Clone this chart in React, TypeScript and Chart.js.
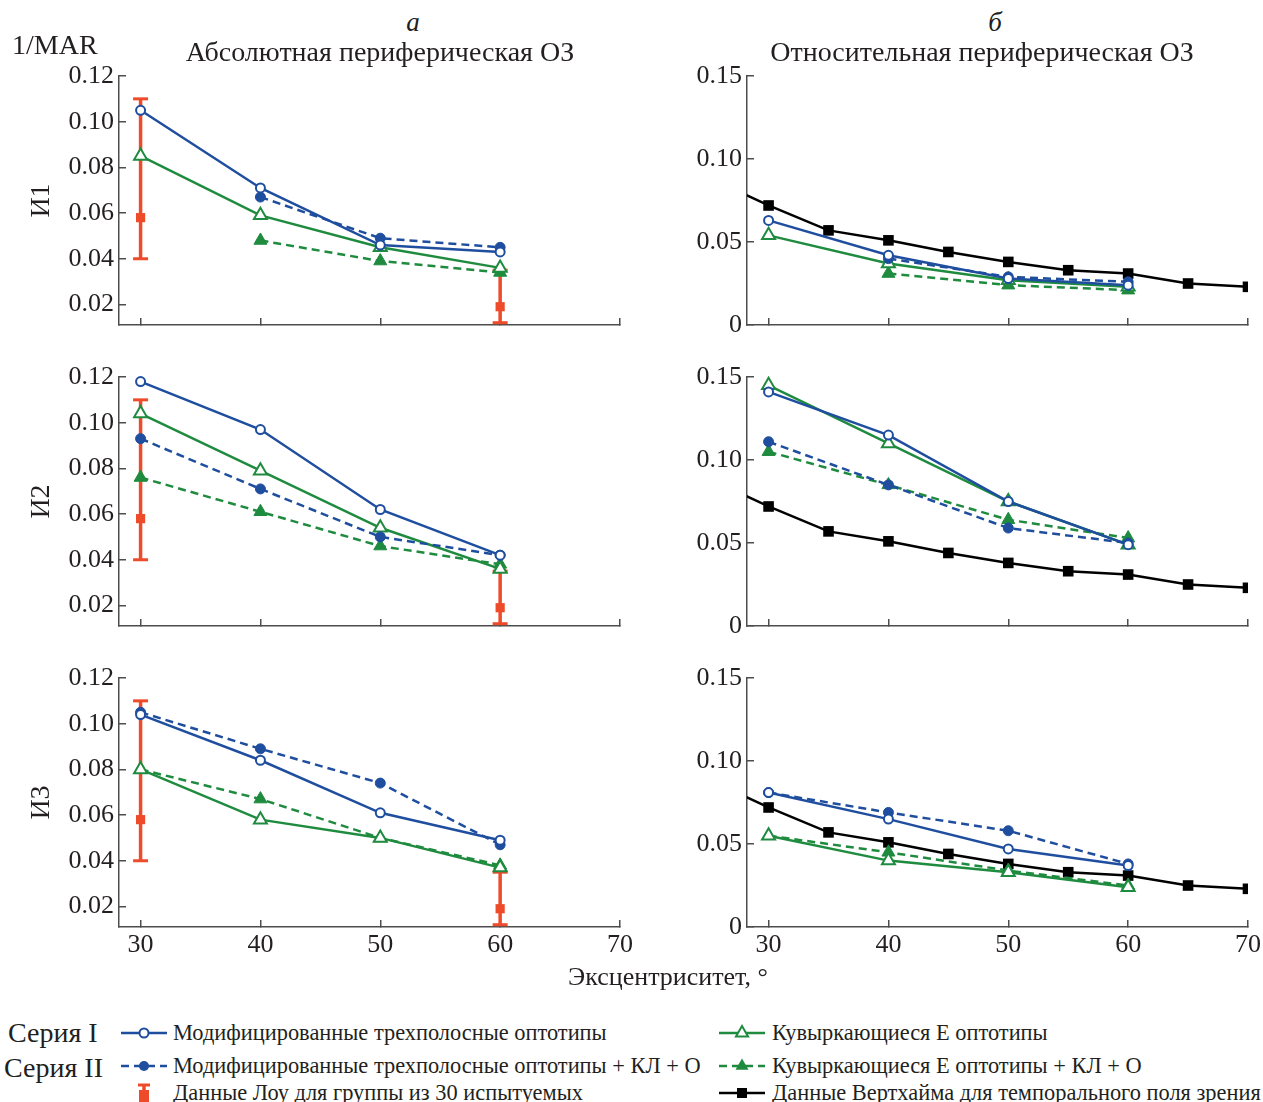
import React, { useEffect, useRef } from 'react';
import { Chart, registerables } from 'chart.js';

Chart.register(...registerables);

// ---------- data ----------
const ECC = [30, 40, 50, 60];
const X_TICKS = [30, 40, 50, 60, 70];
const ABS_Y_TICKS = [0.02, 0.04, 0.06, 0.08, 0.1, 0.12];
const REL_Y_TICKS = [0, 0.05, 0.1, 0.15];
const ROW_TITLES = ['И1', 'И2', 'И3'];

// Absolute peripheral VA (left column)
const ABS_I1_3BAR = [0.105, 0.071, 0.046, 0.043];
const ABS_I1_3BAR_KL = [null, 0.067, 0.049, 0.045];
const ABS_I1_E = [0.085, 0.059, 0.045, 0.036];
const ABS_I1_E_KL = [null, 0.048, 0.039, 0.034];

const ABS_I2_3BAR = [0.118, 0.097, 0.062, 0.042];
const ABS_I2_3BAR_KL = [0.093, 0.071, 0.05, 0.042];
const ABS_I2_E = [0.104, 0.079, 0.054, 0.036];
const ABS_I2_E_KL = [0.076, 0.061, 0.046, 0.038];

const ABS_I3_3BAR = [0.104, 0.084, 0.061, 0.049];
const ABS_I3_3BAR_KL = [0.105, 0.089, 0.074, 0.047];
const ABS_I3_E = [0.08, 0.058, 0.05, 0.037];
const ABS_I3_E_KL = [0.08, 0.067, 0.05, 0.038];

// Relative peripheral VA (right column)
const REL_I1_3BAR = [0.063, 0.042, 0.028, 0.024];
const REL_I1_3BAR_KL = [null, 0.04, 0.029, 0.026];
const REL_I1_E = [0.054, 0.037, 0.027, 0.023];
const REL_I1_E_KL = [null, 0.031, 0.024, 0.021];

const REL_I2_3BAR = [0.141, 0.115, 0.075, 0.049];
const REL_I2_3BAR_KL = [0.111, 0.085, 0.059, 0.05];
const REL_I2_E = [0.145, 0.11, 0.075, 0.049];
const REL_I2_E_KL = [0.105, 0.085, 0.064, 0.053];

const REL_I3_3BAR = [0.081, 0.065, 0.047, 0.037];
const REL_I3_3BAR_KL = [0.081, 0.069, 0.058, 0.038];
const REL_I3_E = [0.055, 0.04, 0.033, 0.024];
const REL_I3_E_KL = [0.055, 0.045, 0.034, 0.025];

// Low data (30 subjects)
const LOW_ECC = [30, 60];
const LOW_MEAN = [0.058, 0.019];
const LOW_LO = [0.04, 0.012];
const LOW_HI = [0.11, 0.035];

// Wertheim data (temporal visual field)
const WERT_ECC = [25, 30, 35, 40, 45, 50, 55, 60, 65, 70];
const WERT_VAL = [0.089, 0.072, 0.057, 0.051, 0.044, 0.038, 0.033, 0.031, 0.025, 0.023];

// ---------- styles ----------
const FONT = '"Liberation Serif", "Times New Roman", Times, serif';
const TEXT = '#231f20';
const AXIS = '#4d4d4d';
const BLUE = '#1f4e9f';
const GREEN = '#1f8b3f';
const RED = '#ee4b2b';
const BLACK = '#000000';

Chart.defaults.font.family = FONT;

const COLS: any = {
  abs: { x: 0, w: 650, padL: 22, padR: 30, yW: 97 },
  rel: { x: 640, w: 638, padL: 0, padR: 30, yW: 107 },
};
const ROWS = [
  { y: 40, h: 320, padT: 36, xH: 35 },
  { y: 340, h: 321, padT: 37, xH: 35 },
  { y: 641, h: 339, padT: 37, xH: 53 },
];

const pts = (xs: number[], ys: (number | null)[]) => xs.map((x, i) => ({ x, y: ys[i] }));

function series(data: (number | null)[], color: string, tri: boolean, filled: boolean, dashed: boolean) {
  return {
    data: pts(ECC, data),
    borderColor: color,
    backgroundColor: color,
    borderWidth: 2.5,
    borderDash: dashed ? [8, 5] : [],
    pointStyle: tri ? 'triangle' : 'circle',
    pointRadius: tri ? 7.5 : filled ? 5 : 4.5,
    pointBackgroundColor: filled ? color : '#ffffff',
    pointBorderColor: color,
    pointBorderWidth: filled ? 1 : 2,
    tension: 0,
    spanGaps: false,
    clip: false,
  };
}

function lowDatasets() {
  const bars: any[] = [];
  LOW_ECC.forEach((x, i) => {
    bars.push({ x, y: LOW_LO[i] });
    bars.push({ x, y: LOW_HI[i] });
    bars.push({ x, y: null });
  });
  return [
    {
      data: pts(LOW_ECC, LOW_MEAN),
      showLine: false,
      pointStyle: 'rect',
      pointRadius: 6.5,
      pointBackgroundColor: RED,
      pointBorderColor: RED,
      pointBorderWidth: 0,
      clip: false,
    },
    {
      data: bars,
      borderColor: RED,
      backgroundColor: RED,
      borderWidth: 3.5,
      pointStyle: 'line',
      pointRadius: 7.5,
      pointBorderWidth: 3,
      pointBorderColor: RED,
      spanGaps: false,
      clip: false,
    },
  ];
}

function wertDataset() {
  return {
    data: pts(WERT_ECC, WERT_VAL),
    borderColor: BLACK,
    backgroundColor: BLACK,
    borderWidth: 2.5,
    pointStyle: 'rect',
    pointRadius: 7.5,
    pointBackgroundColor: BLACK,
    pointBorderColor: BLACK,
    pointBorderWidth: 0,
    tension: 0,
  };
}

function fourSeries(a: any[], b: any[], c: any[], d: any[]) {
  return [
    series(a, BLUE, false, false, false),
    series(b, BLUE, false, true, true),
    series(c, GREEN, true, false, false),
    series(d, GREEN, true, true, true),
  ];
}

const ABS_SETS = [
  [ABS_I1_3BAR, ABS_I1_3BAR_KL, ABS_I1_E, ABS_I1_E_KL],
  [ABS_I2_3BAR, ABS_I2_3BAR_KL, ABS_I2_E, ABS_I2_E_KL],
  [ABS_I3_3BAR, ABS_I3_3BAR_KL, ABS_I3_E, ABS_I3_E_KL],
];
const REL_SETS = [
  [REL_I1_3BAR, REL_I1_3BAR_KL, REL_I1_E, REL_I1_E_KL],
  [REL_I2_3BAR, REL_I2_3BAR_KL, REL_I2_E, REL_I2_E_KL],
  [REL_I3_3BAR, REL_I3_3BAR_KL, REL_I3_E, REL_I3_E_KL],
];

function makeConfig(col: string, rowIdx: number): any {
  const c = COLS[col];
  const r = ROWS[rowIdx];
  const isAbs = col === 'abs';
  const showX = rowIdx === 2;
  const sets = isAbs ? ABS_SETS[rowIdx] : REL_SETS[rowIdx];
  const datasets: any[] = fourSeries(sets[0], sets[1], sets[2], sets[3]);
  if (isAbs) datasets.push(...lowDatasets());
  else datasets.push(wertDataset());
  const yTicks = isAbs ? ABS_Y_TICKS : REL_Y_TICKS;
  const gridOpts = {
    drawOnChartArea: false,
    drawTicks: true,
    tickLength: -7,
    color: AXIS,
    tickColor: AXIS,
    lineWidth: 1.5,
    tickWidth: 1.5,
  };
  return {
    type: 'line',
    data: { datasets },
    options: {
      responsive: false,
      animation: false,
      events: [],
      layout: { padding: { left: c.padL, right: c.padR, top: r.padT, bottom: 0 } },
      plugins: {
        legend: { display: false },
        tooltip: { enabled: false },
        title: { display: false },
      },
      scales: {
        x: {
          type: 'linear',
          min: 28.2,
          max: 70,
          afterBuildTicks: (s: any) => {
            s.ticks = X_TICKS.map((v) => ({ value: v }));
          },
          afterFit: (s: any) => {
            s.height = r.xH;
          },
          grid: gridOpts,
          border: { display: true, color: AXIS, width: 1.5 },
          ticks: {
            display: showX,
            padding: 10,
            autoSkip: false,
            maxRotation: 0,
            color: TEXT,
            font: { family: FONT, size: 26 },
            callback: (v: any) => String(v),
          },
        },
        y: {
          type: 'linear',
          min: isAbs ? 0.011 : 0,
          max: isAbs ? 0.12 : 0.15,
          afterBuildTicks: (s: any) => {
            s.ticks = yTicks.map((v) => ({ value: v }));
          },
          afterFit: (s: any) => {
            s.width = c.yW;
          },
          grid: gridOpts,
          border: { display: true, color: AXIS, width: 1.5 },
          ticks: {
            padding: 12,
            autoSkip: false,
            color: TEXT,
            font: { family: FONT, size: 26 },
            callback: (v: any) => (v === 0 ? '0' : Number(v).toFixed(2)),
          },
          title: {
            display: isAbs,
            text: ROW_TITLES[rowIdx],
            color: TEXT,
            font: { family: FONT, size: 28 },
            padding: { top: 3, bottom: 0 },
          },
        },
      },
    },
  };
}

function Panel({ col, row }: { col: string; row: number }) {
  const ref = useRef<HTMLCanvasElement>(null);
  const c = COLS[col];
  const r = ROWS[row];
  useEffect(() => {
    const chart = new Chart(ref.current as HTMLCanvasElement, makeConfig(col, row));
    return () => chart.destroy();
  }, [col, row]);
  return (
    <canvas
      ref={ref}
      width={c.w}
      height={r.h}
      style={{ position: 'absolute', left: c.x, top: r.y, width: c.w, height: r.h }}
    />
  );
}

function Text({ x, y, size, italic, align, children }: any) {
  const tx = align === 'left' ? '0' : '-50%';
  return (
    <div
      style={{
        position: 'absolute',
        left: x,
        top: y,
        transform: `translate(${tx}, -50%)`,
        fontFamily: FONT,
        fontSize: size,
        fontStyle: italic ? 'italic' : 'normal',
        color: TEXT,
        whiteSpace: 'nowrap',
        lineHeight: 1,
      }}
    >
      {children}
    </div>
  );
}

function LegendIcon({ kind, x, y }: { kind: string; x: number; y: number }) {
  const w = 46;
  const h = 24;
  const cx = w / 2;
  const cy = h / 2;
  let body: any = null;
  const tri = (r: number) => {
    const a = (Math.PI * 2) / 3;
    const p = [0, 1, 2].map((k) => `${cx + Math.sin(k * a) * r},${cy - Math.cos(k * a) * r}`);
    return p.join(' ');
  };
  if (kind === 'blueOpen') {
    body = (
      <>
        <line x1={0} y1={cy} x2={w} y2={cy} stroke={BLUE} strokeWidth={2.5} />
        <circle cx={cx} cy={cy} r={4.5} fill="#fff" stroke={BLUE} strokeWidth={2} />
      </>
    );
  } else if (kind === 'blueFilled') {
    body = (
      <>
        <line x1={0} y1={cy} x2={w} y2={cy} stroke={BLUE} strokeWidth={2.5} strokeDasharray="8 5" />
        <circle cx={cx} cy={cy} r={5} fill={BLUE} />
      </>
    );
  } else if (kind === 'greenOpen') {
    body = (
      <>
        <line x1={0} y1={cy} x2={w} y2={cy} stroke={GREEN} strokeWidth={2.5} />
        <polygon points={tri(7)} fill="#fff" stroke={GREEN} strokeWidth={2} />
      </>
    );
  } else if (kind === 'greenFilled') {
    body = (
      <>
        <line x1={0} y1={cy} x2={w} y2={cy} stroke={GREEN} strokeWidth={2.5} strokeDasharray="8 5" />
        <polygon points={tri(7.5)} fill={GREEN} />
      </>
    );
  } else if (kind === 'black') {
    body = (
      <>
        <line x1={0} y1={cy} x2={w} y2={cy} stroke={BLACK} strokeWidth={2.5} />
        <rect x={cx - 5} y={cy - 5} width={10} height={10} fill={BLACK} />
      </>
    );
  } else if (kind === 'red') {
    body = (
      <>
        <line x1={cx - 6} y1={3} x2={cx + 6} y2={3} stroke={RED} strokeWidth={3} />
        <line x1={cx} y1={3} x2={cx} y2={h} stroke={RED} strokeWidth={3.5} />
        <rect x={cx - 5} y={cy - 4} width={10} height={12} fill={RED} />
      </>
    );
  }
  return (
    <svg
      width={w}
      height={h}
      style={{ position: 'absolute', left: x - w / 2, top: y - h / 2, overflow: 'visible' }}
    >
      {body}
    </svg>
  );
}

export default function App() {
  return (
    <div
      style={{
        position: 'absolute',
        left: 0,
        top: 0,
        width: 1263,
        height: 1102,
        overflow: 'hidden',
        background: '#ffffff',
      }}
    >
      {['abs', 'rel'].map((col) =>
        [0, 1, 2].map((row) => <Panel key={col + row} col={col} row={row} />)
      )}

      <Text x={413} y={22} size={27} italic>
        а
      </Text>
      <Text x={995} y={22} size={27} italic>
        б
      </Text>
      <Text x={12} y={45} size={28} align="left">
        1/MAR
      </Text>
      <Text x={380} y={52} size={28}>
        Абсолютная периферическая ОЗ
      </Text>
      <Text x={982} y={52} size={28}>
        Относительная периферическая ОЗ
      </Text>
      <Text x={668} y={977} size={26}>
        Эксцентриситет, °
      </Text>

      <Text x={8} y={1033} size={28} align="left">
        Серия I
      </Text>
      <Text x={4} y={1068} size={28} align="left">
        Серия II
      </Text>

      <LegendIcon kind="blueOpen" x={144} y={1033} />
      <Text x={173} y={1033} size={22.4} align="left">
        Модифицированные трехполосные оптотипы
      </Text>
      <LegendIcon kind="blueFilled" x={144} y={1066} />
      <Text x={173} y={1066} size={22.4} align="left">
        Модифицированные трехполосные оптотипы + КЛ + О
      </Text>
      <LegendIcon kind="red" x={144} y={1094} />
      <Text x={173} y={1093} size={22.4} align="left">
        Данные Лоу для группы из 30 испытуемых
      </Text>

      <LegendIcon kind="greenOpen" x={742} y={1033} />
      <Text x={772} y={1033} size={22.4} align="left">
        Кувыркающиеся Е оптотипы
      </Text>
      <LegendIcon kind="greenFilled" x={742} y={1066} />
      <Text x={772} y={1066} size={22.4} align="left">
        Кувыркающиеся Е оптотипы + КЛ + О
      </Text>
      <LegendIcon kind="black" x={742} y={1093} />
      <Text x={772} y={1093} size={22.4} align="left">
        Данные Вертхайма для темпорального поля зрения
      </Text>
    </div>
  );
}
